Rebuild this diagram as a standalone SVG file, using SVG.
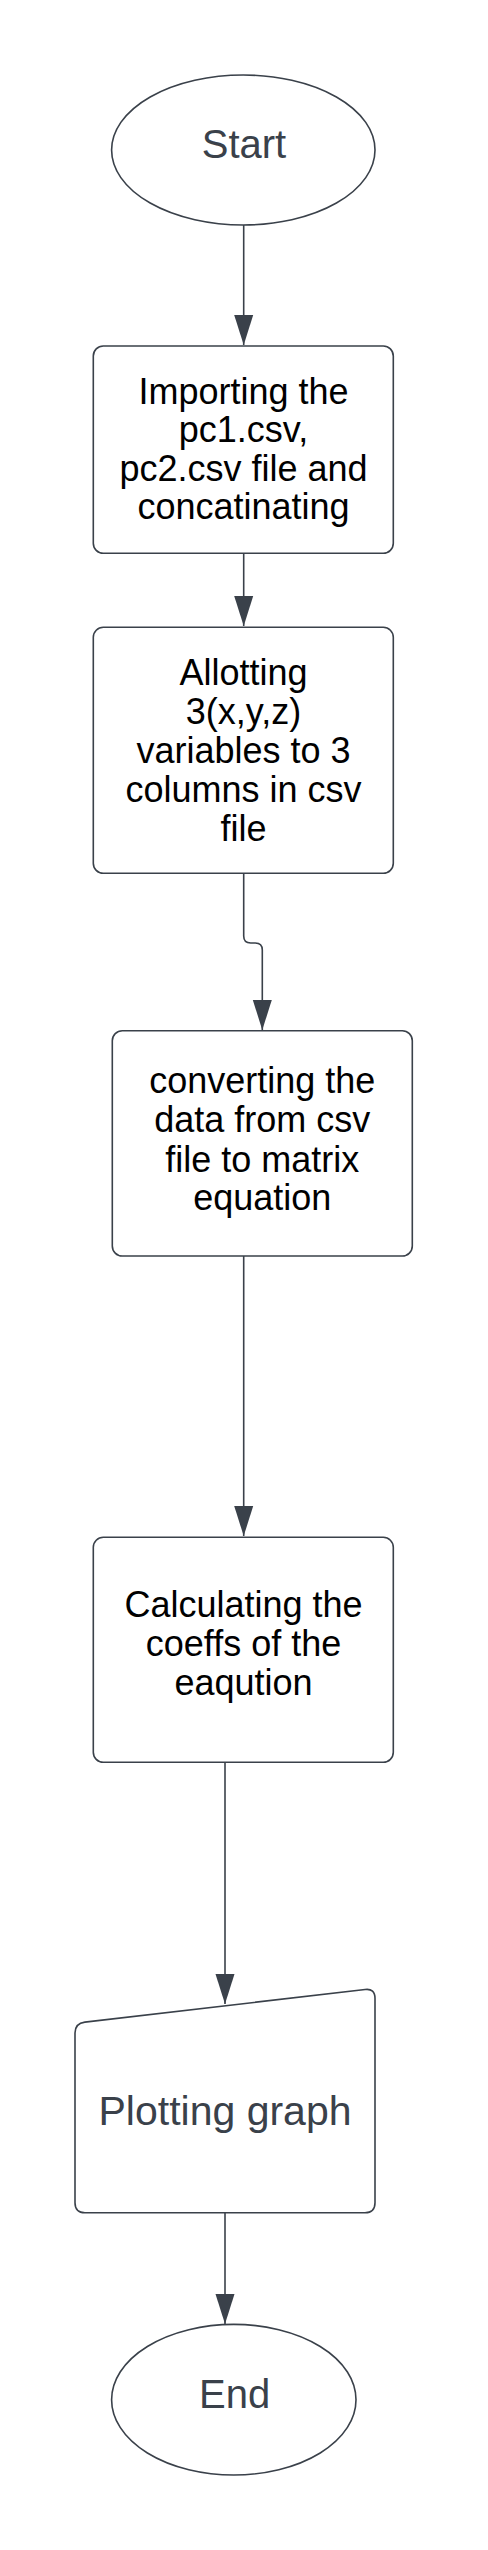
<svg xmlns="http://www.w3.org/2000/svg" width="488" height="2550" viewBox="0 0 488 2550">
<style>
.shape{fill:#ffffff;stroke:#3a414a;stroke-width:1.6}
.line{fill:none;stroke:#3a414a;stroke-width:1.6}
.t{font-family:"Liberation Sans",Arial,sans-serif;font-size:36px;fill:#000000;text-anchor:middle}
.tg{font-family:"Liberation Sans",Arial,sans-serif;font-size:40px;fill:#3a414a;text-anchor:middle}
</style>
<defs>
<marker id="arr" markerUnits="userSpaceOnUse" markerWidth="30" markerHeight="20" refX="30" refY="10" orient="auto">
<path d="M0,0.5 L30,10 L0,19.5 Z" fill="#3a414a"/>
</marker>
</defs>
<rect x="0" y="0" width="488" height="2550" fill="#ffffff"/>
<g id="connectors">
<path class="line" d="M243.7,225 L243.7,345" marker-end="url(#arr)"/>
<path class="line" d="M243.7,553.3 L243.7,626" marker-end="url(#arr)"/>
<path class="line" d="M243.7,873.3 L243.7,936 Q243.7,943 250.7,943 L255.3,943 Q262.3,943 262.3,950 L262.3,1030" marker-end="url(#arr)"/>
<path class="line" d="M243.7,1256 L243.7,1536" marker-end="url(#arr)"/>
<path class="line" d="M225,1762.3 L225,2004" marker-end="url(#arr)"/>
<path class="line" d="M225,2212.7 L225,2324" marker-end="url(#arr)"/>
</g>
<g id="start">
<ellipse class="shape" cx="243.3" cy="150" rx="131.7" ry="75"/>
<text class="tg" x="244" y="158.3">Start</text>
</g>
<g id="import">
<rect class="shape" x="93.3" y="346" width="300" height="207.3" rx="10" ry="10"/>
<text class="t" x="243.5" y="403.5">Importing the</text>
<text class="t" x="243.5" y="442">pc1.csv,</text>
<text class="t" x="243.5" y="480.5">pc2.csv file and</text>
<text class="t" x="243.5" y="519">concatinating</text>
</g>
<g id="allot">
<rect class="shape" x="93.3" y="627.3" width="300" height="246" rx="10" ry="10"/>
<text class="t" x="243.5" y="685">Allotting</text>
<text class="t" x="243.5" y="724">3(x,y,z)</text>
<text class="t" x="243.5" y="763">variables to 3</text>
<text class="t" x="243.5" y="801.7">columns in csv</text>
<text class="t" x="243.5" y="840.7">file</text>
</g>
<g id="convert">
<rect class="shape" x="112.3" y="1030.7" width="300" height="225.3" rx="10" ry="10"/>
<text class="t" x="262.3" y="1093.3">converting the</text>
<text class="t" x="262.3" y="1132.3">data from csv</text>
<text class="t" x="262.3" y="1171.5">file to matrix</text>
<text class="t" x="262.3" y="1210">equation</text>
</g>
<g id="calc">
<rect class="shape" x="93.3" y="1537.3" width="300" height="225" rx="10" ry="10"/>
<text class="t" x="243.5" y="1616.7">Calculating the</text>
<text class="t" x="243.5" y="1655.7">coeffs of the</text>
<text class="t" x="243.5" y="1695">eaqution</text>
</g>
<g id="plot">
<path class="shape" d="M75,2033 Q75,2023.3 84.9,2022.1 L365.1,1989.5 Q375,1988.3 375,1998.3 L375,2202.7 Q375,2212.7 365,2212.7 L85,2212.7 Q75,2212.7 75,2202.7 Z"/>
<text class="tg" x="225" y="2125" style="font-size:41px">Plotting graph</text>
</g>
<g id="end">
<ellipse class="shape" cx="233.8" cy="2399.7" rx="122.2" ry="75.3"/>
<text class="tg" x="234.7" y="2408.3">End</text>
</g>
</svg>
